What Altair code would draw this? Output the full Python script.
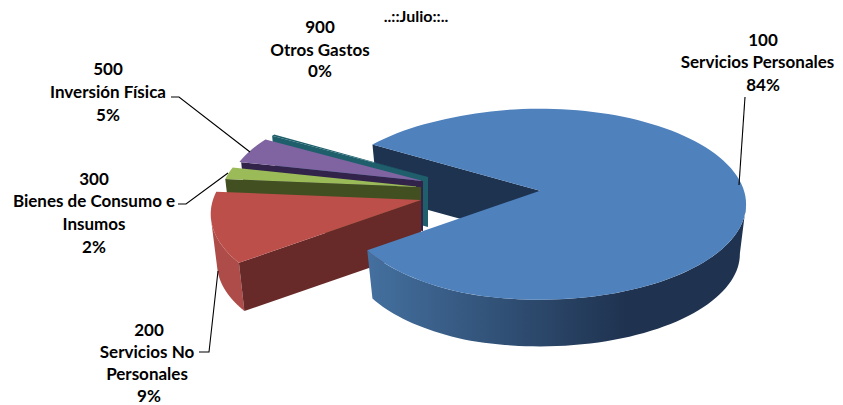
import numpy as np
import pandas as pd
import altair as alt

codes = ["100", "200", "300", "500", "900"]
names = ["Servicios Personales", "Servicios No Personales", "Bienes de Consumo e Insumos", "Inversión Física", "Otros Gastos"]
shares = [83.9, 8.9, 2.1, 4.8, 0.3]
title_text = "..::Julio::.."

# 3-D view of the pie
RX, RY, P, DEPTH, SHRINK = 204.0, 93.6, 0.1413, 50.0, 0.97
START = 211.0
W, H = 827, 397
xs = alt.Scale(domain=[8, 835], range=[0, W], nice=False, zero=False)
ys = alt.Scale(domain=[8, 405], range=[0, H], nice=False, zero=False)

angles = np.array(shares) / sum(shares) * 360
edges = START + np.concatenate([[0], np.cumsum(angles)])
edges_low = edges - 360  # angles of the small slices, on the left side


def warp(t):
    return np.interp(np.mod(t, 360), [0, 90, 153, 185, 360], [0, 90, 143, 185, 360])


def blue_r(t):
    # the big slice's cut ends sit slightly off the ideal ellipse
    return np.interp(t, [edges[0], edges[0] + 30, edges[1] - 40, edges[1]], [1.03, 1.0, 1.0, 0.972])


def proj(apex, t, r=1.0, bottom=False):
    a = np.radians(warp(t))
    X, Y = r * np.cos(a), r * np.sin(a)
    w = 1 - P * Y
    sx, sy = RX * X / w, RY * Y / w
    if bottom:
        return apex[0] + sx * SHRINK, apex[1] + DEPTH + sy * SHRINK
    return apex[0] + sx, apex[1] + sy


def poly(points, fill, stroke=None):
    df = pd.DataFrame(points, columns=["px", "py"])
    df["i"] = range(len(df))
    return alt.Chart(df).mark_line(
        fill=fill, stroke=stroke or "#00000000", strokeWidth=0.6, interpolate="linear-closed"
    ).encode(
        x=alt.X("px:Q", scale=xs, axis=None),
        y=alt.Y("py:Q", scale=ys, axis=None),
        order="i:Q",
    )


def radius(r, t):
    return r(t) if callable(r) else r


def top(apex, t0, t1, fill, r=1.0):
    ts = np.linspace(t0, t1, 120)
    return poly([apex] + [proj(apex, t, radius(r, t)) for t in ts], fill)


def cut(apex, t, fill, r=1.0):
    a_b = (apex[0], apex[1] + DEPTH)
    rr = radius(r, t)
    return poly([apex, proj(apex, t, rr), proj(apex, t, rr, True), a_b], fill)


def wall(apex, t0, t1, fill, r=1.0):
    ts = np.linspace(t0, t1, 70)
    return poly(
        [proj(apex, t, radius(r, t)) for t in ts] + [proj(apex, t, radius(r, t), True) for t in ts[::-1]],
        fill,
    )


blue_ap, red_ap, green_ap, purple_ap, teal_ap = (540, 190.7), (421, 200), (421, 187), (423, 181), (428, 177)
blue_wall = alt.Gradient(
    gradient="linear", x1=0, x2=1, y1=0, y2=0,
    stops=[
        alt.GradientStop(color="#44709f", offset=0),
        alt.GradientStop(color="#1f3350", offset=0.68),
        alt.GradientStop(color="#1f3350", offset=1),
    ],
)

layers = [
    cut(blue_ap, edges[0], "#1d3350", blue_r),
    cut(teal_ap, edges_low[4], "#1f5f6c", 0.94),
    top(teal_ap, edges_low[4], edges_low[5], "#1f5f6c", 0.94),
    cut(purple_ap, edges_low[3], "#32234a", 0.94),
    top(purple_ap, edges_low[3], edges_low[4], "#8064a2", 0.95),
    cut(green_ap, edges_low[2], "#424f21", 0.975),
    top(green_ap, edges_low[2], edges_low[3], "#9bbb59", 0.975),
    wall(red_ap, edges_low[1], 172, "#ad4c49", 1.02),
    cut(red_ap, edges_low[1], "#672a28", 1.02),
    top(red_ap, edges_low[1], edges_low[2], "#bd4f4b", 1.02),
    wall(blue_ap, 368, edges[1], blue_wall, blue_r),
    top(blue_ap, edges[0], edges[1], "#4f81bd", blue_r),
]

# leader lines
leaders = [
    [(745, 97), (739, 185)],
    [(199, 352), (209, 352), (218, 271)],
    [(178, 204), (186, 204), (228, 173)],
    [(171, 97), (179, 97), (250, 152)],
]
rows = []
for k, seg in enumerate(leaders):
    for i, (a, b) in enumerate(seg):
        rows.append({"k": k, "i": i, "px": a, "py": b})
leader_chart = alt.Chart(pd.DataFrame(rows)).mark_line(color="#000000", strokeWidth=1.1).encode(
    x=alt.X("px:Q", scale=xs, axis=None),
    y=alt.Y("py:Q", scale=ys, axis=None),
    detail="k:N",
    order="i:Q",
)

pct = [f"{round(v)}%" for v in shares]
label_lines = [
    (763, 40, codes[0]), (757.5, 62, names[0]), (763, 85, pct[0]),
    (149, 330, codes[1]), (147, 352, "Servicios No"), (147, 374, "Personales"), (149, 396, pct[1]),
    (94, 179, codes[2]), (94, 201, "Bienes de Consumo e"), (94, 224, "Insumos"), (94, 247, pct[2]),
    (108, 69, codes[3]), (108, 92, names[3]), (108, 115, pct[3]),
    (320, 27, codes[4]), (320, 50, names[4]), (320, 71, pct[4]),
]
text_df = pd.DataFrame(label_lines, columns=["px", "py", "t"])
text_chart = alt.Chart(text_df).mark_text(
    font="Lato", fontWeight="bold", fontSize=17, color="#000000", align="center", baseline="middle", dy=1
).encode(
    x=alt.X("px:Q", scale=xs, axis=None),
    y=alt.Y("py:Q", scale=ys, axis=None),
    text="t:N",
)
title_chart = alt.Chart(pd.DataFrame({"px": [416], "py": [17], "t": [title_text]})).mark_text(
    font="Lato", fontWeight="bold", fontSize=16, color="#000000", align="center", baseline="middle"
).encode(
    x=alt.X("px:Q", scale=xs, axis=None),
    y=alt.Y("py:Q", scale=ys, axis=None),
    text="t:N",
)

chart = alt.layer(*layers, leader_chart, text_chart, title_chart).properties(
    width=W, height=H, padding=0, autosize=alt.AutoSizeParams(type="none")
).configure_view(stroke=None)

chart.save("out.html", embed_options={"renderer": "svg", "actions": False})
